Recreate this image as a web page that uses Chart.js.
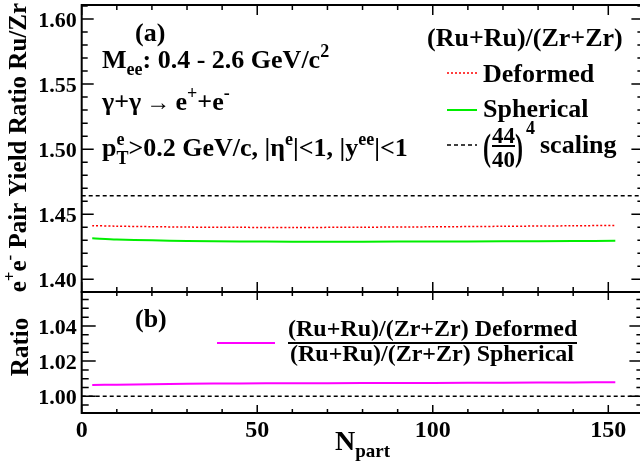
<!DOCTYPE html>
<html>
<head>
<meta charset="utf-8">
<script src="https://cdn.jsdelivr.net/npm/chart.js@4.4.1/dist/chart.umd.min.js"></script>
<style>
  html, body { margin: 0; padding: 0; background: #fff; width: 640px; height: 462px; overflow: hidden; }
  #wrap { position: relative; width: 640px; height: 462px; overflow: hidden; }
  canvas { position: absolute; left: 0; }
  #topChart { top: 0; }
  #botChart { top: 290px; }
</style>
</head>
<body>
<div id="wrap">
  <canvas id="topChart" width="660" height="294"></canvas>
  <canvas id="botChart" width="660" height="172"></canvas>
</div>
<script>
// values
const npart = [3, 10, 20, 30, 45, 60, 80, 100, 120, 140, 152];
const deformed  = [1.4412, 1.4408, 1.4404, 1.4401, 1.4399, 1.4398, 1.4400, 1.4403, 1.4407, 1.4411, 1.4414];
const spherical = [1.4315, 1.4306, 1.4299, 1.4294, 1.4290, 1.4289, 1.4289, 1.4290, 1.4292, 1.4294, 1.4295];
const ratioDefSph = [1.0064, 1.0066, 1.0069, 1.0071, 1.0073, 1.0074, 1.0075, 1.0076, 1.0077, 1.0079, 1.0080];

const refX = [0, 160];
const scalingLine = [1.4641, 1.4641];   // (44/40)^4
const unityLine = [1.00, 1.00];

const xTicks = [0, 50, 100, 150];
const topYTicks = [1.40, 1.45, 1.50, 1.55, 1.60];
const botYTicks = [1.00, 1.02, 1.04];

const SERIF = '"Liberation Serif", "Times New Roman", serif';
const font = sz => 'bold ' + sz + 'px ' + SERIF;

function pts(xs, ys) {
    return xs.map((x, i) => ({ x: x, y: ys[i] }));
}

// pieces: [text, size, dy, noAdvance]
function rich(ctx, x, y, parts) {
    for (const [t, sz, dy, stay] of parts) {
        ctx.font = font(sz);
        ctx.fillText(t, x, y + (dy || 0));
        if (!stay) x += ctx.measureText(t).width;
    }
    return x;
}

function richWidth(ctx, parts) {
    let w = 0;
    for (const [t, sz, dy, stay] of parts) {
        ctx.font = font(sz);
        if (!stay) w += ctx.measureText(t).width;
    }
    return w;
}

function sample(ctx, x1, x2, y, color, width, dash) {
    ctx.save();
    ctx.strokeStyle = color;
    ctx.lineWidth = width;
    ctx.setLineDash(dash);
    ctx.beginPath();
    ctx.moveTo(x1, y);
    ctx.lineTo(x2, y);
    ctx.stroke();
    ctx.restore();
}

// tall parenthesis like ROOT's #left( ... #right)
function bigParen(ctx, ch, x, bottom) {
    ctx.save();
    ctx.translate(x, bottom);
    ctx.scale(1, 1.6);
    ctx.font = font(24);
    ctx.fillText(ch, 0, -0.2 * 24);
    ctx.restore();
}

// ROOT style frame with inward ticks on all four sides
function framePlugin(cfg) {
    return {
        id: 'frame',
        afterDatasetsDraw(chart) {
            const { ctx, chartArea: a, scales } = chart;
            const x = scales.x, y = scales.y;
            ctx.save();
            ctx.strokeStyle = '#000';
            ctx.lineWidth = 1.5;
            ctx.beginPath();
            for (let i = 0; i <= 16; i++) {
                const px = x.getPixelForValue(i * 10);
                const len = i % 5 === 0 ? cfg.xMaj : cfg.xMin;
                ctx.moveTo(px, a.bottom); ctx.lineTo(px, a.bottom - len);
                ctx.moveTo(px, a.top); ctx.lineTo(px, a.top + len);
            }
            for (let k = cfg.yFrom; k <= cfg.yTo; k += cfg.yStep) {
                const py = y.getPixelForValue(k / 1000);
                if (py < a.top - 0.5 || py > a.bottom + 0.5) continue;
                const len = k % cfg.yMajEvery === 0 ? cfg.yMaj : cfg.yMin;
                ctx.moveTo(a.left, py); ctx.lineTo(a.left + len, py);
                ctx.moveTo(a.right, py); ctx.lineTo(a.right - len, py);
            }
            ctx.stroke();
            ctx.lineWidth = 2;
            ctx.strokeRect(a.left, a.top, a.right - a.left, a.bottom - a.top);

            // x tick labels under the lower panel
            if (cfg.xLabels) {
                ctx.fillStyle = '#000';
                ctx.font = font(24);
                ctx.textAlign = 'center';
                ctx.textBaseline = 'alphabetic';
                for (const v of xTicks) {
                    ctx.fillText(String(v), x.getPixelForValue(v), a.bottom + 24);
                }
            }
            ctx.restore();
        }
    };
}

const topText = {
    id: 'topText',
    afterDraw(chart) {
        const ctx = chart.ctx;
        ctx.save();
        ctx.fillStyle = '#000';
        ctx.textAlign = 'left';
        ctx.textBaseline = 'alphabetic';

        rich(ctx, 135, 41, [['(a)', 26]]);
        rich(ctx, 102, 68, [['M', 26], ['ee', 18, 7], [': 0.4 - 2.6 GeV/c', 26], ['2', 18, -11]]);
        rich(ctx, 102, 110, [['\u03b3+\u03b3\u2009', 26], ['\u2192', 24], ['\u2009e', 26], ['+', 18, -11], ['+e', 26], ['-', 18, -11]]);
        rich(ctx, 102, 156, [['p', 26], ['e', 18, -11, true], ['T', 18, 8],
            ['>0.2 GeV/c, |\u03b7', 26], ['e', 18, -11], ['|<1, |y', 26], ['ee', 18, -11], ['|<1', 26]]);

        // legend
        rich(ctx, 427, 46, [['(Ru+Ru)/(Zr+Zr)', 26]]);
        sample(ctx, 447, 477, 73, '#ff0000', 1.5, [2, 2]);
        rich(ctx, 483, 82, [['Deformed', 26]]);
        sample(ctx, 447, 477, 110, '#00ee00', 2, []);
        rich(ctx, 483, 117, [['Spherical', 26]]);
        sample(ctx, 447, 477, 145, '#000000', 1.5, [4, 3]);
        bigParen(ctx, '(', 483, 168);
        ctx.font = font(23);
        ctx.textAlign = 'center';
        ctx.fillText('44', 503.5, 143);
        ctx.fillText('40', 503.5, 167);
        ctx.fillRect(492, 145, 23, 2);
        ctx.textAlign = 'left';
        bigParen(ctx, ')', 515, 168);
        rich(ctx, 526, 134, [['4', 18]]);
        rich(ctx, 540, 153, [['scaling', 26]]);

        // y axis title, rotated, ending near the top
        ctx.translate(26, 3);
        ctx.rotate(-Math.PI / 2);
        const parts = [['e', 25], ['+', 17, -11], ['e', 25], ['-', 17, -11], [' Pair Yield Ratio Ru/Zr', 25]];
        rich(ctx, -richWidth(ctx, parts), 0, parts);
        ctx.restore();
    }
};

const botText = {
    id: 'botText',
    afterDraw(chart) {
        const ctx = chart.ctx;
        const off = 290;
        ctx.save();
        ctx.fillStyle = '#000';
        ctx.textAlign = 'left';
        ctx.textBaseline = 'alphabetic';
        rich(ctx, 135, 327 - off, [['(b)', 26]]);
        sample(ctx, 217, 275, 343 - off, '#ff00ff', 2, []);
        rich(ctx, 288, 336 - off, [['(Ru+Ru)/(Zr+Zr) Deformed', 24]]);
        ctx.fillRect(288, 342 - off, 289, 2);
        rich(ctx, 290, 361 - off, [['(Ru+Ru)/(Zr+Zr) Spherical', 24]]);

        rich(ctx, 335, 450 - off, [['N', 28], ['part', 19, 7]]);

        ctx.translate(28, 347 - off);
        ctx.rotate(-Math.PI / 2);
        ctx.textAlign = 'center';
        ctx.font = font(25);
        ctx.fillText('Ratio', 0, 0);
        ctx.restore();
    }
};

const common = {
    responsive: false,
    animation: false,
    plugins: { legend: { display: false }, tooltip: { enabled: false } },
    elements: { point: { radius: 0 }, line: { tension: 0.3 } }
};

function yAxis(min, max, ticks) {
    return {
        type: 'linear', min: min, max: max,
        grid: { display: false, drawTicks: false },
        border: { display: false },
        afterFit: s => { s.width = 81.7; s.paddingTop = 0; s.paddingBottom = 0; },
        afterBuildTicks: s => { s.ticks = ticks.map(v => ({ value: v })); },
        ticks: {
            padding: 5, labelOffset: 2.5, color: '#000',
            font: { family: SERIF, size: 22, weight: 'bold' },
            callback: v => v.toFixed(2)
        }
    };
}

new Chart(document.getElementById('topChart').getContext('2d'), {
    type: 'line',
    data: {
        datasets: [
            { data: pts(refX, scalingLine), borderColor: '#000', borderWidth: 1.5, borderDash: [4, 3], tension: 0 },
            { data: pts(npart, deformed), borderColor: '#ff0000', borderWidth: 1.5, borderDash: [2, 2] },
            { data: pts(npart, spherical), borderColor: '#00ee00', borderWidth: 2 }
        ]
    },
    options: {
        ...common,
        layout: { padding: { left: 0, right: 16.6, top: 5, bottom: 2 } },
        scales: {
            x: { type: 'linear', min: 0, max: 160, display: false },
            y: yAxis(1.3902, 1.6108, topYTicks)
        }
    },
    plugins: [framePlugin({ xMaj: 10, xMin: 5, yMaj: 12, yMin: 6, yFrom: 1390, yTo: 1611, yStep: 10, yMajEvery: 50 }), topText]
});

new Chart(document.getElementById('botChart').getContext('2d'), {
    type: 'line',
    data: {
        datasets: [
            { data: pts(refX, unityLine), borderColor: '#000', borderWidth: 1.5, borderDash: [4, 3], tension: 0 },
            { data: pts(npart, ratioDefSph), borderColor: '#ff00ff', borderWidth: 2 }
        ]
    },
    options: {
        ...common,
        layout: { padding: { left: 0, right: 16.6, top: 2, bottom: 0 } },
        scales: {
            x: {
                type: 'linear', min: 0, max: 160,
                grid: { display: false, drawTicks: false },
                border: { display: false },
                afterFit: s => { s.height = 49; s.paddingLeft = 0; s.paddingRight = 0; },
                ticks: { display: false }
            },
            y: yAxis(0.9905, 1.0593, botYTicks)
        }
    },
    plugins: [framePlugin({ xMaj: 8, xMin: 4, yMaj: 14, yMin: 7, yFrom: 990, yTo: 1060, yStep: 5, yMajEvery: 20, xLabels: true }), botText]
});
</script>
</body>
</html>
